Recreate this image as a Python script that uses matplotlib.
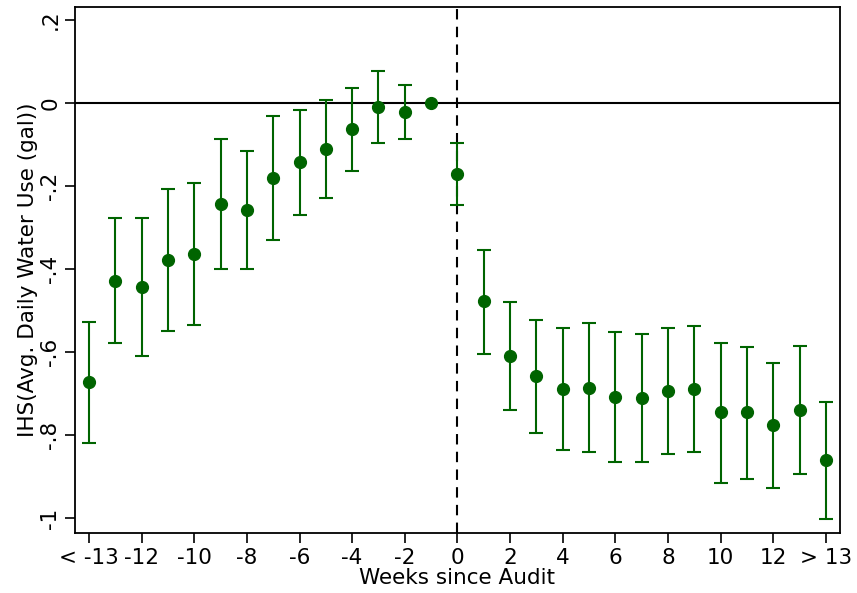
import matplotlib
matplotlib.use('Agg')
import matplotlib.pyplot as plt
import numpy as np

# Event-study estimates
weeks = [-14, -13, -12, -11, -10, -9, -8, -7, -6, -5, -4, -3, -2, -1,
         0, 1, 2, 3, 4, 5, 6, 7, 8, 9, 10, 11, 12, 13, 14]
coef = [-0.672, -0.429, -0.443, -0.378, -0.364, -0.243, -0.258, -0.181, -0.142, -0.111,
        -0.063, -0.010, -0.022, 0.0,
        -0.171, -0.477, -0.610, -0.658, -0.689, -0.687, -0.708, -0.711, -0.694, -0.689,
        -0.745, -0.745, -0.776, -0.740, -0.860]
ci_hi = [-0.528, -0.277, -0.277, -0.207, -0.193, -0.087, -0.116, -0.031, -0.017, 0.007,
         0.036, 0.077, 0.043, 0.0,
         -0.096, -0.354, -0.480, -0.523, -0.542, -0.530, -0.552, -0.557, -0.542, -0.537,
         -0.578, -0.588, -0.627, -0.586, -0.720]
ci_lo = [-0.819, -0.578, -0.610, -0.549, -0.535, -0.400, -0.400, -0.330, -0.270, -0.229,
         -0.164, -0.096, -0.087, 0.0,
         -0.246, -0.605, -0.740, -0.795, -0.836, -0.841, -0.865, -0.865, -0.846, -0.841,
         -0.916, -0.906, -0.928, -0.894, -1.002]

xtick_pos = [-14, -12, -10, -8, -6, -4, -2, 0, 2, 4, 6, 8, 10, 12, 14]
xtick_lab = ['< -13', '-12', '-10', '-8', '-6', '-4', '-2', '0', '2', '4', '6', '8', '10', '12', '> 13']
ytick_pos = [0.2, 0, -0.2, -0.4, -0.6, -0.8, -1]
ytick_lab = ['.2', '0', '-.2', '-.4', '-.6', '-.8', '-1']

x = np.array(weeks)
y = np.array(coef)
err = np.vstack([y - np.array(ci_lo), np.array(ci_hi) - y])

fig = plt.figure(figsize=(8.57, 5.93), dpi=100)
ax = fig.add_axes([0.0875, 0.101, 0.8925, 0.887])

green = '#006400'
# drop CI for the omitted week (-1)
mask = x != -1
ax.errorbar(x[mask], y[mask], yerr=err[:, mask], fmt='none', ecolor=green,
            elinewidth=1.5, capsize=5, capthick=1.5, zorder=3)
ax.plot(x, y, 'o', color=green, markersize=8.5, zorder=4)

ax.axhline(0, color='black', linewidth=1.5, zorder=2)
ax.axvline(0, color='black', linewidth=1.5, linestyle=(0, (5, 3.5)), zorder=2)

ax.set_xlim(-14.53, 14.53)
ax.set_ylim(-1.036, 0.231)
ax.set_xticks(xtick_pos)
ax.set_xticklabels(xtick_lab)
ax.set_yticks(ytick_pos)
ax.set_yticklabels(ytick_lab, rotation=90, va='center')

ax.tick_params(axis='both', labelsize=15.5, length=7, width=1.2, direction='out')
for s in ax.spines.values():
    s.set_linewidth(1.3)

ax.set_xlabel('Weeks since Audit', fontsize=15.5, labelpad=0)
ax.set_ylabel('IHS(Avg. Daily Water Use (gal))', fontsize=15.5, labelpad=2)

fig.savefig('out.png', dpi=100)
